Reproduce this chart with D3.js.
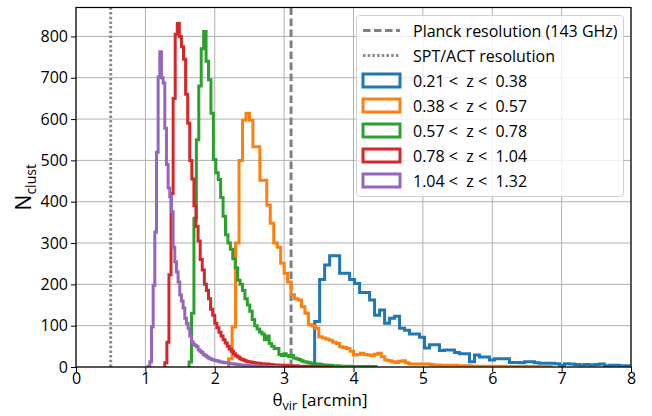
<!DOCTYPE html>
<html>
<head>
<meta charset="utf-8">
<script src="https://cdn.jsdelivr.net/npm/d3@7"></script>
<style>
  body { margin: 0; background: #fff; }
  text { font-family: "Open Sans", sans-serif; }
</style>
</head>
<body>
<svg id="chart"></svg>
<script>
// histogram bins: start, bin width, counts for each redshift slice
const seriesLabels = ["0.21 <  z <  0.38", "0.38 <  z <  0.57", "0.57 <  z <  0.78", "0.78 <  z <  1.04", "1.04 <  z <  1.32"];
const seriesColors = ["#1f77b4", "#ff7f0e", "#2ca02c", "#d62728", "#9467bd"];
const binStarts = [3.44, 2.2, 1.63, 1.28, 1.04];
const binWidths = [0.072, 0.05, 0.035, 0.03, 0.024];

const countsBlue = [110,212,247,269,269,227,227,212,202,180,180,162,125,138,106,118,123,94,89,80,80,72,46,54,54,40,41,41,35,32,32,13,29,24,24,17,20,20,20,11,11,10,13,13,10,9,9,9,8,4,8,7,6,5,6,5,6,7,3,4,4,3,3];
const countsOrange = [20,97,300,500,597,614,597,533,533,452,452,392,348,300,290,251,227,206,175,165,162,146,130,102,100,94,73,70,68,65,60,57,49,47,45,38,29,30,33,30,29,28,31,33,25,17,15,13,11,14,15,10,7,7,7,7,7,7,6,5,5,4,4,4,4,4,3,3,3,3,2,2,2,2,2,2,2,2,1,2,1,1,1,1,1,1,1,1,1,1,1,0,1];
const countsGreen = [12,130,360,550,680,770,812,740,695,614,502,470,454,410,365,320,300,285,262,240,210,200,185,165,150,135,115,100,92,85,80,66,75,57,50,45,45,30,28,32,28,25,28,22,20,18,15,13,12,10,9,8,7,7,6,5,5,4,4,3,3,3,2,2,2,2,2,1,1,1,1,1,1,0,1,0,1];
const countsRed = [10,60,223,420,650,805,831,800,775,745,660,590,500,455,390,340,305,260,235,200,185,165,140,125,106,95,84,75,66,58,50,43,38,32,27,24,20,18,16,14,13,12,11,10,9,9,8,8,7,7,6,6,5,5,5,4,4,4,4,3,3,3,3,3,2,2,2,2,2,2,1,1,1,1,1,1,1,1,0,1];
const countsPurple = [2,13,97,198,327,520,702,763,700,687,578,490,433,412,376,290,255,230,206,174,160,143,118,105,94,75,61,55,52,49,42,38,35,30,28,25,22,20,18,17,16,15,14,12,12,11,10,10,9,8,8,7,7,6,6,5,5,5,4,4,4,3,3,3,3,2,2,2,2,2,1,1,1,1,1,1,1,0,1];
const allCounts = [countsBlue, countsOrange, countsGreen, countsRed, countsPurple];

const xTicks = [0, 1, 2, 3, 4, 5, 6, 7, 8];
const yTicks = [0, 100, 200, 300, 400, 500, 600, 700, 800];
const planckRes = 3.1;
const sptRes = 0.5;

const width = 652;
const height = 416;
const margin = { top: 7.5, right: 21, bottom: 49, left: 76 };

const svg = d3.select("#chart")
  .attr("width", width)
  .attr("height", height);

const x = d3.scaleLinear().domain([0, 8]).range([margin.left, width - margin.right]);
const y = d3.scaleLinear().domain([0, 870]).range([height - margin.bottom, margin.top]);

// grid
svg.append("g")
  .selectAll("line")
  .data(xTicks)
  .join("line")
  .attr("x1", d => x(d)).attr("x2", d => x(d))
  .attr("y1", y(0)).attr("y2", y(870))
  .attr("stroke", "#b0b0b0").attr("stroke-width", 1);

svg.append("g")
  .selectAll("line")
  .data(yTicks)
  .join("line")
  .attr("x1", x(0)).attr("x2", x(8))
  .attr("y1", d => y(d)).attr("y2", d => y(d))
  .attr("stroke", "#b0b0b0").attr("stroke-width", 1);

svg.append("clipPath").attr("id", "plot-clip")
  .append("rect")
  .attr("x", x(0)).attr("y", y(870))
  .attr("width", x(8) - x(0)).attr("height", y(0) - y(870));

const plot = svg.append("g").attr("clip-path", "url(#plot-clip)");

// resolution lines
plot.append("line")
  .attr("x1", x(planckRes)).attr("x2", x(planckRes))
  .attr("y1", y(0)).attr("y2", y(870))
  .attr("stroke", "#808080").attr("stroke-width", 3)
  .attr("stroke-dasharray", "7.5,3.5");

plot.append("line")
  .attr("x1", x(sptRes)).attr("x2", x(sptRes))
  .attr("y1", y(0)).attr("y2", y(870))
  .attr("stroke", "#8a8a8a").attr("stroke-width", 3)
  .attr("stroke-dasharray", "2.5,2.2");

// step histograms
const line = d3.line().x(d => x(d[0])).y(d => y(d[1]));

allCounts.forEach((counts, i) => {
  const pts = [[binStarts[i], 0]];
  counts.forEach((c, j) => {
    pts.push([binStarts[i] + j * binWidths[i], c]);
    pts.push([binStarts[i] + (j + 1) * binWidths[i], c]);
  });
  pts.push([binStarts[i] + counts.length * binWidths[i], 0]);
  plot.append("path")
    .attr("d", line(pts))
    .attr("fill", "none")
    .attr("stroke", seriesColors[i])
    .attr("stroke-width", 3)
    .attr("stroke-linejoin", "miter");
});

// axes
const xAxis = svg.append("g")
  .attr("transform", `translate(0, ${y(0)})`)
  .call(d3.axisBottom(x).tickValues(xTicks).tickSize(5).tickPadding(1).tickFormat(d3.format("d")));
const yAxis = svg.append("g")
  .attr("transform", `translate(${x(0)}, 0)`)
  .call(d3.axisLeft(y).tickValues(yTicks).tickSize(5).tickPadding(3).tickFormat(d3.format("d")));

[xAxis, yAxis].forEach(g => {
  g.select(".domain").remove();
  g.selectAll(".tick line").attr("stroke", "#000").attr("stroke-width", 1);
  g.selectAll(".tick text").style("font-size", "16px").attr("fill", "#000");
});

// frame
svg.append("rect")
  .attr("x", x(0)).attr("y", y(870))
  .attr("width", x(8) - x(0)).attr("height", y(0) - y(870))
  .attr("fill", "none").attr("stroke", "#000").attr("stroke-width", 1.2);

// axis labels
const xl = svg.append("text")
  .attr("x", 320).attr("y", 406)
  .attr("text-anchor", "middle")
  .style("font-size", "17px");
xl.append("tspan").text("θ");
xl.append("tspan").attr("dy", 4).style("font-size", "12.5px").text("vir");
xl.append("tspan").attr("dy", -4).text(" [arcmin]");

const yl = svg.append("text")
  .attr("transform", `translate(31, ${(y(0) + y(870)) / 2}) rotate(-90)`)
  .attr("text-anchor", "middle")
  .style("font-size", "21px");
yl.append("tspan").text("N");
yl.append("tspan").attr("dy", 5).style("font-size", "14px").text("clust");

// legend
const lg = svg.append("g");
lg.append("rect")
  .attr("x", 356.5).attr("y", 15.5)
  .attr("width", 267).attr("height", 181)
  .attr("rx", 3)
  .attr("fill", "#fff").attr("fill-opacity", 0.8)
  .attr("stroke", "#d0d0d0").attr("stroke-width", 1);

const rowY = d => 30.5 + d * 25;
lg.append("line")
  .attr("x1", 363).attr("x2", 400).attr("y1", rowY(0)).attr("y2", rowY(0))
  .attr("stroke", "#808080").attr("stroke-width", 3).attr("stroke-dasharray", "7.5,3.5");
lg.append("line")
  .attr("x1", 363).attr("x2", 400).attr("y1", rowY(1)).attr("y2", rowY(1))
  .attr("stroke", "#8a8a8a").attr("stroke-width", 3).attr("stroke-dasharray", "2.5,2.2");

seriesLabels.forEach((lab, i) => {
  lg.append("rect")
    .attr("x", 363).attr("y", rowY(i + 2) - 6.5)
    .attr("width", 37).attr("height", 13)
    .attr("fill", "#fff")
    .attr("stroke", seriesColors[i]).attr("stroke-width", 3);
});

const legendTexts = ["Planck resolution (143 GHz)", "SPT/ACT resolution"].concat(seriesLabels);
legendTexts.forEach((t, i) => {
  lg.append("text")
    .attr("x", 413).attr("y", rowY(i) + 6)
    .style("font-size", "16px")
    .style("white-space", "pre")
    .text(t);
});
</script>
</body>
</html>
